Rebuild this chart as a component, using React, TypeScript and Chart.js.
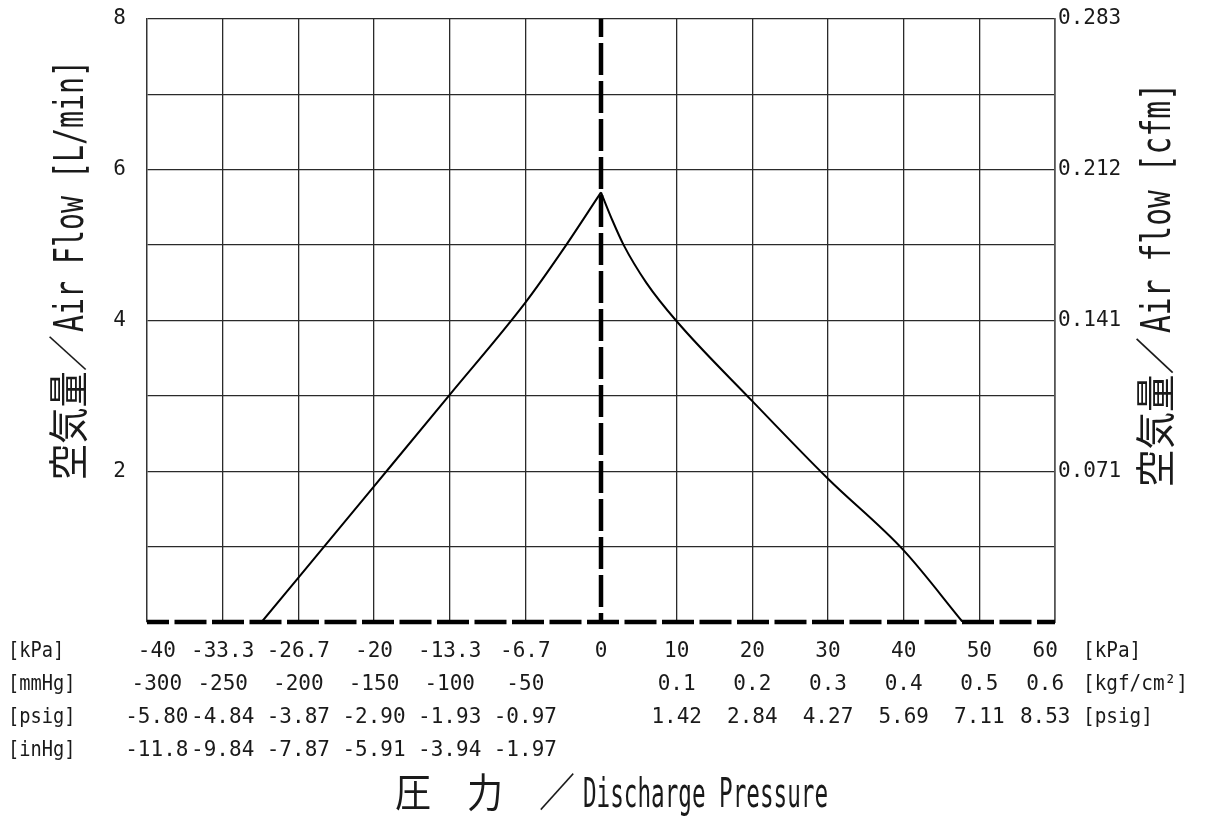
import { useEffect, useRef } from 'react';
import { Chart, registerables } from 'chart.js';

Chart.register(...registerables);

// ---- data ----
const PRESSURE_KPA = [-29.9, -20, -13.3, -6.7, -3.3, 0, 1.5, 3, 6, 10, 20, 30, 40, 47.8];
const AIR_FLOW_LPM = [0, 1.8, 3.02, 4.23, 4.95, 5.7, 5.33, 5.0, 4.5, 3.99, 2.93, 1.9, 0.95, 0];

// bottom tick label rows (one entry per grid column line)
const KPA_TICKS = ['-40', '-33.3', '-26.7', '-20', '-13.3', '-6.7', '0', '10', '20', '30', '40', '50', '60'];
const MMHG_KGF_TICKS = ['-300', '-250', '-200', '-150', '-100', '-50', '', '0.1', '0.2', '0.3', '0.4', '0.5', '0.6'];
const PSIG_TICKS = ['-5.80', '-4.84', '-3.87', '-2.90', '-1.93', '-0.97', '', '1.42', '2.84', '4.27', '5.69', '7.11', '8.53'];
const INHG_TICKS = ['-11.8', '-9.84', '-7.87', '-5.91', '-3.94', '-1.97', '', '', '', '', '', '', ''];

const LEFT_UNITS = ['[kPa]', '[mmHg]', '[psig]', '[inHg]'];
const RIGHT_UNITS = ['[kPa]', '[kgf/cm²]', '[psig]'];

const FLOW_LPM_TICKS = [2, 4, 6, 8];
const FLOW_CFM_TICKS = ['0.071', '0.141', '0.212', '0.283'];

const LEFT_TITLE = ['空気量／', 'Air Flow [L/min]'];
const RIGHT_TITLE = ['空気量／', 'Air flow [cfm]'];
const BOTTOM_TITLE = ['圧　力　／', 'Discharge Pressure'];

const SUCTION_MIN_KPA = -40;
const DISCHARGE_MAX_KPA = 60;
const HALF_COLUMNS = 6;

// piecewise pressure axis: 6 columns for vacuum side, 6 for discharge side
const kpaToCol = (p: number) =>
  p < 0 ? HALF_COLUMNS - (p / SUCTION_MIN_KPA) * HALF_COLUMNS : HALF_COLUMNS + (p / DISCHARGE_MAX_KPA) * HALF_COLUMNS;

const TEXT = '#1a1a1a';
const GRID = '#2a2a2a';
const CLEAR = 'rgba(0,0,0,0)';
const MONO = "'DejaVu Sans Mono', 'Noto Sans CJK JP', monospace";
const TITLE_FONT = "40px 'DejaVu Sans Mono', 'Noto Sans CJK JP', sans-serif";
const TICK_FONT_SIZE = 21;
const TICK_LINE = 33 / 21;
const X_TICK_PAD = 13;
const EDGE_INSET = 0.13;

export default function App() {
  const ref = useRef<HTMLCanvasElement | null>(null);

  useEffect(() => {
    if (!ref.current) return;
    const pts = PRESSURE_KPA.map((p, i) => ({ x: kpaToCol(p), y: AIR_FLOW_LPM[i] }));
    const suction = pts.filter((_, i) => PRESSURE_KPA[i] <= 0);
    const discharge = pts.filter((_, i) => PRESSURE_KPA[i] >= 0);
    const nCols = KPA_TICKS.length - 1;

    // draw a title made of segments, each squeezed into its own width
    const drawRun = (
      ctx: CanvasRenderingContext2D,
      segs: string[],
      widths: number[],
      x: number,
      y: number,
      rot: number,
      gap: number
    ) => {
      ctx.save();
      ctx.translate(x, y);
      ctx.rotate(rot);
      ctx.font = TITLE_FONT;
      ctx.fillStyle = TEXT;
      ctx.textAlign = 'left';
      ctx.textBaseline = 'middle';
      let pos = 0;
      segs.forEach((s, i) => {
        ctx.fillText(s, pos, 0, widths[i]);
        pos += widths[i] + gap;
      });
      ctx.restore();
    };

    const drawUnit = (ctx: CanvasRenderingContext2D, text: string, x: number, y: number, sx: number) => {
      ctx.save();
      ctx.translate(x, y);
      ctx.scale(sx, 1);
      ctx.font = `22px ${MONO}`;
      ctx.fillStyle = TEXT;
      ctx.textAlign = 'left';
      ctx.textBaseline = 'middle';
      ctx.fillText(text, 0, 0);
      ctx.restore();
    };

    const titlesPlugin = {
      id: 'titlesAndUnits',
      afterDraw(chart: any) {
        const ctx = chart.ctx as CanvasRenderingContext2D;
        const ca = chart.chartArea;
        drawRun(ctx, LEFT_TITLE, [145, 272], ca.left - 74, ca.top + 461, -Math.PI / 2, 3);
        drawRun(ctx, RIGHT_TITLE, [150, 250], ca.right + 105, ca.top + 468, -Math.PI / 2, 4);
        drawRun(ctx, BOTTOM_TITLE, [180, 245], ca.left + 248, ca.bottom + 175, 0, 8);
        const lh = TICK_FONT_SIZE * TICK_LINE;
        LEFT_UNITS.forEach((u, i) => {
          drawUnit(ctx, u, 0, ca.bottom + X_TICK_PAD + lh / 2 + i * lh, 0.85);
        });
        RIGHT_UNITS.forEach((u, i) => {
          drawUnit(ctx, u, ca.right + 28, ca.bottom + X_TICK_PAD + lh / 2 + i * lh, 0.88);
        });
      },
    };

    const tickFont = { family: MONO, size: TICK_FONT_SIZE, lineHeight: TICK_LINE };

    const chart = new Chart(ref.current, {
      type: 'line',
      data: {
        datasets: [
          {
            label: 'suction',
            data: suction,
            borderColor: '#000',
            borderWidth: 2,
            pointRadius: 0,
            cubicInterpolationMode: 'monotone',
          },
          {
            label: 'discharge',
            data: discharge,
            borderColor: '#000',
            borderWidth: 2,
            pointRadius: 0,
            cubicInterpolationMode: 'monotone',
          },
          {
            label: 'zero flow',
            data: [
              { x: 0, y: 0 },
              { x: nCols, y: 0 },
            ],
            borderColor: '#000',
            borderWidth: 4.5,
            borderDash: [32, 5.5],
            borderDashOffset: 10,
            pointRadius: 0,
            clip: false,
          },
          {
            label: 'zero pressure',
            data: [
              { x: HALF_COLUMNS, y: 8 },
              { x: HALF_COLUMNS, y: 0 },
            ],
            borderColor: '#000',
            borderWidth: 4.5,
            borderDash: [32, 6],
            borderDashOffset: 14,
            pointRadius: 0,
            clip: false,
          },
        ] as any,
      },
      options: {
        animation: false,
        responsive: true,
        maintainAspectRatio: false,
        layout: { padding: { top: 11, left: 0, right: 0, bottom: 0 } },
        plugins: { legend: { display: false }, tooltip: { enabled: false } },
        elements: { line: { tension: 0 } },
        scales: {
          x: {
            type: 'linear',
            position: 'bottom',
            min: 0,
            max: nCols,
            afterBuildTicks: (s: any) => {
              s.ticks = KPA_TICKS.map((_, i) => ({
                value: i === 0 ? EDGE_INSET : i === nCols ? nCols - EDGE_INSET : i,
              }));
            },
            afterFit: (s: any) => {
              s.height = 204;
              s.paddingLeft = 0;
              s.paddingRight = 0;
            },
            grid: {
              color: (c: any) => (c.index === 0 || c.index === HALF_COLUMNS || c.index === nCols ? CLEAR : GRID),
              lineWidth: 1.3,
              drawTicks: false,
            },
            border: { display: false },
            ticks: {
              autoSkip: false,
              maxRotation: 0,
              minRotation: 0,
              padding: X_TICK_PAD,
              color: TEXT,
              font: tickFont,
              callback: (_v: any, i: number) => [KPA_TICKS[i], MMHG_KGF_TICKS[i], PSIG_TICKS[i], INHG_TICKS[i]],
            },
          },
          y: {
            type: 'linear',
            position: 'left',
            min: 0,
            max: 8,
            afterFit: (s: any) => {
              s.width = 139;
              s.paddingTop = 0;
              s.paddingBottom = 0;
            },
            grid: {
              color: (c: any) => (c.tick && c.tick.value === 0 ? CLEAR : GRID),
              lineWidth: 1.3,
              drawTicks: false,
            },
            border: { color: '#333', width: 1.5 },
            ticks: {
              stepSize: 1,
              padding: 21,
              color: TEXT,
              font: tickFont,
              callback: (v: any) => (FLOW_LPM_TICKS.includes(Number(v)) ? String(v) : ''),
            },
          },
          y2: {
            type: 'linear',
            position: 'right',
            min: 0,
            max: 8,
            afterFit: (s: any) => {
              s.width = 166;
              s.paddingTop = 0;
              s.paddingBottom = 0;
            },
            grid: { drawOnChartArea: false, drawTicks: false },
            border: { color: '#555', width: 1.8 },
            ticks: {
              stepSize: 1,
              padding: 3,
              color: TEXT,
              font: tickFont,
              callback: (v: any) => {
                const k = FLOW_LPM_TICKS.indexOf(Number(v));
                return k >= 0 ? FLOW_CFM_TICKS[k] : '';
              },
            },
          },
        },
      } as any,
      plugins: [titlesPlugin],
    });
    return () => chart.destroy();
  }, []);

  return (
    <div style={{ position: 'relative', width: 1213, height: 818 }}>
      <canvas ref={ref} />
    </div>
  );
}
